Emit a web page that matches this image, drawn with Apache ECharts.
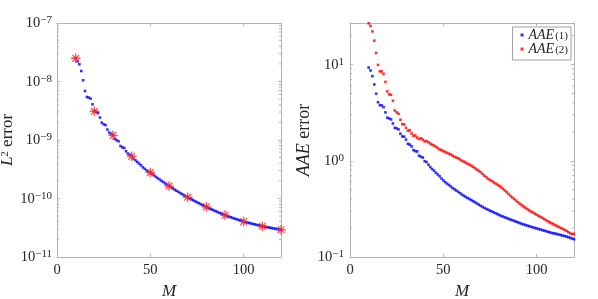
<!DOCTYPE html>
<html><head><meta charset="utf-8">
<script src="https://cdn.jsdelivr.net/npm/echarts@6/dist/echarts.min.js"></script>
<style>html,body{margin:0;padding:0;background:#fff}#c{width:598px;height:299px}</style>
</head><body><div id="c"></div>
<script>
// ---------- data ----------
const M_VALUES = [10,11,12,13,14,15,16,17,18,19,20,21,22,23,24,25,26,27,28,29,30,31,32,33,34,35,36,37,38,39,40,41,42,43,44,45,46,47,48,49,50,51,52,53,54,55,56,57,58,59,60,61,62,63,64,65,66,67,68,69,70,71,72,73,74,75,76,77,78,79,80,81,82,83,84,85,86,87,88,89,90,91,92,93,94,95,96,97,98,99,100,101,102,103,104,105,106,107,108,109,110,111,112,113,114,115,116,117,118,119,120];

const L2_ERROR = [2.49e-8,2.21e-8,1.97e-8,1.51e-8,1.05e-8,6.89e-9,5.44e-9,5.31e-9,5.10e-9,4.07e-9,
3.13e-9,3.03e-9,2.90e-9,2.42e-9,1.98e-9,1.85e-9,1.80e-9,1.51e-9,1.34e-9,1.28e-9,
1.20e-9,1.04e-9,9.88e-10,9.50e-10,7.89e-10,7.50e-10,7.30e-10,6.41e-10,5.85e-10,5.58e-10,
5.26e-10,4.81e-10,4.50e-10,4.21e-10,3.95e-10,3.70e-10,3.41e-10,3.22e-10,3.03e-10,2.88e-10,
2.77e-10,2.62e-10,2.48e-10,2.34e-10,2.22e-10,2.11e-10,2.00e-10,1.91e-10,1.81e-10,1.72e-10,
1.64e-10,1.56e-10,1.49e-10,1.42e-10,1.36e-10,1.30e-10,1.24e-10,1.19e-10,1.14e-10,1.09e-10,
1.05e-10,1.007e-10,9.68e-11,9.31e-11,8.95e-11,8.63e-11,8.32e-11,8.00e-11,7.71e-11,7.43e-11,
7.16e-11,6.93e-11,6.70e-11,6.49e-11,6.27e-11,6.07e-11,5.87e-11,5.69e-11,5.51e-11,5.33e-11,
5.16e-11,5.03e-11,4.91e-11,4.79e-11,4.67e-11,4.55e-11,4.44e-11,4.34e-11,4.23e-11,4.13e-11,
4.03e-11,3.95e-11,3.88e-11,3.81e-11,3.74e-11,3.67e-11,3.61e-11,3.54e-11,3.48e-11,3.41e-11,
3.35e-11,3.30e-11,3.26e-11,3.21e-11,3.17e-11,3.13e-11,3.08e-11,3.04e-11,3.00e-11,2.96e-11,2.92e-11];

const STAR_M = [10,20,30,40,50,60,70,80,90,100,110,120];
const STAR_L2 = [2.49e-8,3.1e-9,1.2e-9,5.26e-10,2.77e-10,1.64e-10,1.05e-10,7.2e-11,5.2e-11,4.03e-11,3.35e-11,2.92e-11];

const AAE1 = [9.3,8.67,7.56,6.21,4.97,4.06,3.78,3.76,3.61,3.18,
2.80,2.75,2.69,2.44,2.20,2.17,2.12,1.91,1.79,1.78,
1.66,1.50,1.47,1.41,1.29,1.26,1.25,1.13,1.10,1.08,
0.99,0.97,0.91,0.86,0.82,0.79,0.75,0.72,0.69,0.655,
0.625,0.60,0.58,0.56,0.54,0.52,0.505,0.49,0.475,0.46,
0.445,0.432,0.42,0.41,0.40,0.39,0.38,0.37,0.36,0.35,
0.34,0.331,0.323,0.316,0.31,0.303,0.297,0.291,0.285,0.279,
0.273,0.267,0.263,0.258,0.254,0.249,0.245,0.241,0.237,0.233,
0.229,0.225,0.221,0.218,0.215,0.212,0.209,0.206,0.203,0.2005,
0.198,0.1955,0.193,0.1905,0.188,0.1855,0.183,0.1805,0.178,0.1765,
0.175,0.173,0.171,0.169,0.167,0.165,0.163,0.1605,0.158,0.1555,0.153];

const AAE2 = [26.8,25.2,22.1,17.7,13.2,9.9,8.5,8.46,8.0,6.6,
5.25,4.89,4.85,4.2,3.33,3.18,3.08,2.67,2.40,2.39,
2.20,2.05,2.08,1.92,1.82,1.83,1.74,1.68,1.71,1.66,
1.59,1.60,1.56,1.51,1.47,1.44,1.40,1.35,1.31,1.29,
1.26,1.235,1.21,1.185,1.16,1.13,1.10,1.08,1.06,1.03,
1.00,0.98,0.955,0.93,0.91,0.89,0.865,0.835,0.81,0.785,
0.76,0.73,0.70,0.675,0.65,0.63,0.615,0.595,0.58,0.565,
0.55,0.53,0.51,0.49,0.47,0.45,0.43,0.415,0.40,0.385,
0.37,0.357,0.345,0.335,0.325,0.315,0.305,0.297,0.29,0.282,
0.275,0.268,0.262,0.255,0.248,0.241,0.235,0.229,0.224,0.219,
0.214,0.209,0.205,0.20,0.196,0.191,0.187,0.181,0.176,0.173,0.174];

const SERIES_NAMES = ['AAE1','AAE2'];
const X_TICKS = [0, 50, 100];
const MINOR_MULT = [2,3,4,5,6,7,8,9];
const LEFT_DECADES = [1e-11,1e-10,1e-9,1e-8];
const RIGHT_DECADES = [0.1,1,10];
const L_YMIN = 1e-11, L_YMAX = 1e-7;
const R_YMIN = 0.1, R_YMAX = 27;
const X_MIN = 0, X_MAX = 120;

// ---------- styles ----------
const FONT = 'Liberation Serif';
const AX = '#b4b4b4';
const TXT = '#262626';

function pairs(xs, ys){ return xs.map((x,i)=>[x, ys[i]]); }
function minorList(decades, lo, hi){
  const out = [];
  decades.forEach(d => MINOR_MULT.forEach(m => { const v = d*m; if (v > lo && v < hi) out.push([0, v]); }));
  return out;
}
function powLabel(v){
  const e = Math.log10(v); const r = Math.round(e);
  if (Math.abs(e - r) > 1e-6) return '';
  return '{b|10}{s|' + (r < 0 ? '\u2212' : '') + Math.abs(r) + '}';
}
const powRich = {
  b: {fontFamily: FONT, fontSize: 14.5, color: TXT, lineHeight: 16, verticalAlign: 'bottom'},
  s: {fontFamily: FONT, fontSize: 11, color: TXT, lineHeight: 6, verticalAlign: 'top'}
};

function xAxes(gi){
  const base = {type:'value', gridIndex: gi, min: X_MIN, max: X_MAX, interval: 50,
    splitLine:{show:false}, axisLine:{show:true, onZero:false, lineStyle:{color:AX, width:1}},
    axisTick:{show:true, inside:true, length:3, lineStyle:{color:AX}}};
  return [
    Object.assign({}, base, {position:'bottom',
      axisLabel:{show:true, margin:6, fontFamily:FONT, fontSize:14.5, color:TXT, showMaxLabel:false,
        formatter: v => X_TICKS.indexOf(v) >= 0 ? String(v) : ''},
      name:'M', nameLocation:'middle', nameGap:23,
      nameTextStyle:{fontFamily:FONT, fontSize:17, fontStyle:'italic', color:TXT}}),
    Object.assign({}, base, {position:'top', axisLabel:{show:false}})
  ];
}
function yAxes(gi, lo, hi, margin, name, nameRich, nameGap){
  const base = {type:'log', logBase:10, gridIndex: gi, min: lo, max: hi,
    splitLine:{show:false}, axisLine:{show:true, onZero:false, lineStyle:{color:AX, width:1}},
    axisTick:{show:true, inside:true, length:3, lineStyle:{color:AX}}};
  return [
    Object.assign({}, base, {position:'left',
      axisLabel:{show:true, margin: margin, formatter: powLabel, rich: powRich},
      name: name, nameLocation:'middle', nameGap: nameGap, nameRotate: 90,
      nameTextStyle:{fontFamily:FONT, fontSize:17, color:TXT, rich: nameRich}}),
    Object.assign({}, base, {position:'right', axisLabel:{show:false}})
  ];
}
function minorSeries(xi, yi, data){
  return {type:'custom', xAxisIndex: xi, yAxisIndex: yi, silent: true, clip: false, z: 1,
    data: data, encode:{x:0, y:1},
    renderItem: function(params, api){
      const cs = params.coordSys;
      const y = api.coord([0, api.value(1)])[1];
      const st = {stroke: AX, lineWidth: 1};
      return {type:'group', children:[
        {type:'line', shape:{x1:cs.x, y1:y, x2:cs.x+2, y2:y}, style: st},
        {type:'line', shape:{x1:cs.x+cs.width, y1:y, x2:cs.x+cs.width-2, y2:y}, style: st}
      ]};
    }};
}

const nameRichL = {
  i: {fontFamily:FONT, fontSize:17, fontStyle:'italic', color:TXT, lineHeight:17, verticalAlign:'bottom'},
  s: {fontFamily:FONT, fontSize:11, color:TXT, lineHeight:9, verticalAlign:'top'},
  n: {fontFamily:FONT, fontSize:17, color:TXT, lineHeight:17, verticalAlign:'bottom'}
};
const nameRichR = {
  i: {fontFamily:FONT, fontSize:18, fontStyle:'italic', color:TXT},
  n: {fontFamily:FONT, fontSize:18, color:TXT}
};

const STAR = 'path://M5,0L5,10M0,5L10,5M1.5,1.5L8.5,8.5M1.5,8.5L8.5,1.5';

const option = {
  animation: false,
  backgroundColor: '#ffffff',
  grid: [
    {left: 57, top: 23, width: 224, height: 234, containLabel: false, outerBoundsMode: 'none'},
    {left: 350, top: 23, width: 224, height: 234, containLabel: false, outerBoundsMode: 'none'}
  ],
  xAxis: [...xAxes(0), ...xAxes(1)],
  yAxis: [
    ...yAxes(0, L_YMIN, L_YMAX, 5, '{i|L}{s|2}{n| error}', nameRichL, 39),
    ...yAxes(1, R_YMIN, R_YMAX, 6, '{i|AAE}{n| error}', nameRichR, 37)
  ],
  legend: {
    data: SERIES_NAMES, orient: 'vertical', right: 27, top: 27,
    itemWidth: 3, itemHeight: 3, itemGap: 0, icon: 'rect',
    padding: [1, 3, 4, 8], borderColor: '#a0a0a0', borderWidth: 1, backgroundColor: '#fff',
    formatter: n => n === 'AAE1' ? '{i|AAE}{sub|(1)}' : '{i|AAE}{sub|(2)}',
    textStyle: {rich: {
      i: {fontFamily:FONT, fontSize:14, fontStyle:'italic', color:TXT, lineHeight:14, verticalAlign:'bottom'},
      sub: {fontFamily:FONT, fontSize:11, color:TXT, lineHeight:6, verticalAlign:'bottom', padding:[0,0,0,1]}
    }}
  },
  series: [
    minorSeries(0, 0, minorList(LEFT_DECADES, L_YMIN, L_YMAX)),
    minorSeries(2, 2, minorList(RIGHT_DECADES, R_YMIN, R_YMAX)),
    {type:'scatter', xAxisIndex:0, yAxisIndex:0, data: pairs(M_VALUES, L2_ERROR),
      symbol:'rect', symbolSize:2.6, itemStyle:{color:'#0000ff'}, clip:false, z:3},
    {type:'scatter', xAxisIndex:0, yAxisIndex:0, data: pairs(STAR_M, STAR_L2),
      symbol: STAR, symbolSize: 9.5, itemStyle:{color:'#ff0000', borderColor:'#ff2a2a', borderWidth:1.4}, clip:false, z:4},
    {type:'scatter', name:'AAE1', xAxisIndex:2, yAxisIndex:2, data: pairs(M_VALUES, AAE1),
      symbol:'rect', symbolSize:2.6, itemStyle:{color:'#0000ff'}, clip:false, z:3},
    {type:'scatter', name:'AAE2', xAxisIndex:2, yAxisIndex:2, data: pairs(M_VALUES, AAE2),
      symbol:'rect', symbolSize:2.6, itemStyle:{color:'#ff0000'}, clip:false, z:3}
  ]
};

const chart = echarts.init(document.getElementById('c'), null, {renderer:'canvas'});
chart.setOption(option);
</script>
</body></html>
